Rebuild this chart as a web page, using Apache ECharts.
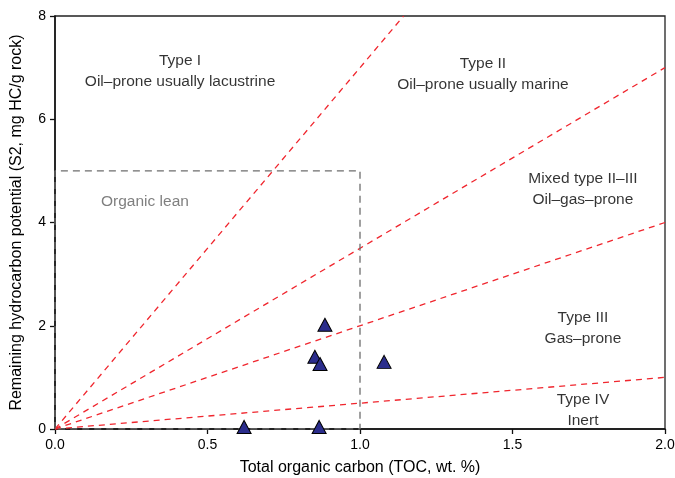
<!DOCTYPE html>
<html>
<head>
<meta charset="utf-8">
<script src="https://cdn.jsdelivr.net/npm/echarts@6/dist/echarts.min.js"></script>
<style>
    html, body { margin: 0; padding: 0; background: #fff; }
    #chart { width: 675px; height: 478px; }
</style>
</head>
<body>
<div id="chart"></div>
<script>
// samples: TOC (wt. %) vs S2 (mg HC/g rock)
const sampleToc = [0.62, 0.866, 0.852, 0.869, 0.885, 1.079];
const sampleS2 = [0.04, 0.04, 1.40, 1.26, 2.02, 1.30];

// kerogen type boundary lines, end points of each line from the origin
const boundaryEnds = [[1.143, 8], [2, 7], [2, 4], [2, 1]];

// organic lean box
const leanBox = [[0, 0], [0, 5], [1, 5], [1, 0], [0, 0]];

// field labels
const fieldNames = [
    'Type I\nOil\u2013prone usually lacustrine',
    'Type II\nOil\u2013prone usually marine',
    'Mixed type II\u2013III\nOil\u2013gas\u2013prone',
    'Type III\nGas\u2013prone',
    'Type IV\nInert'
];
const fieldX = [0.41, 1.403, 1.731, 1.731, 1.731];
const fieldY = [6.93, 6.87, 4.64, 1.95, 0.37];

const xTicks = ['0.0', '0.5', '1.0', '1.5', '2.0'];

let chart = echarts.init(document.getElementById('chart'));
const font = '"Liberation Sans", Arial, Helvetica, sans-serif';

let series = [];

boundaryEnds.forEach(function (end) {
    series.push({
        type: 'line',
        data: [[0, 0], end],
        symbol: 'none',
        silent: true,
        lineStyle: { color: '#f0262e', width: 1.3, type: [6, 5] },
        z: 2
    });
});

series.push({
    type: 'line',
    data: leanBox,
    symbol: 'none',
    silent: true,
    lineStyle: { color: '#6d6d6d', width: 1.3, type: [7, 5] },
    z: 2
});

series.push({
    type: 'scatter',
    data: fieldNames.map(function (n, i) { return [fieldX[i], fieldY[i], n]; }),
    symbolSize: 0,
    silent: true,
    label: {
        show: true,
        position: 'inside',
        formatter: function (p) { return p.value[2]; },
        color: '#000',
        fontSize: 15.5,
        lineHeight: 21,
        fontFamily: font
    },
    z: 3
});

series.push({
    type: 'scatter',
    data: [[0.295, 4.41, 'Organic lean']],
    symbolSize: 0,
    silent: true,
    label: {
        show: true,
        position: 'inside',
        formatter: function (p) { return p.value[2]; },
        color: '#5f5f5f',
        fontSize: 15.5,
        fontFamily: font
    },
    z: 3
});

series.push({
    type: 'scatter',
    data: sampleToc.map(function (x, i) { return [x, sampleS2[i]]; }),
    symbol: 'triangle',
    symbolSize: [14, 13],
    clip: false,
    itemStyle: { color: '#2b2d8c', opacity: 1, borderColor: '#000', borderWidth: 1 },
    z: 5
});

let option = {
    animation: false,
    backgroundColor: '#fff',
    grid: {
        left: 55, right: 10, top: 16, bottom: 49,
        outerBoundsMode: 'none',
        show: true, borderColor: '#222', borderWidth: 1.3
    },
    xAxis: {
        type: 'value',
        min: 0, max: 2, interval: 0.5,
        name: 'Total organic carbon (TOC, wt. %)',
        nameLocation: 'middle',
        nameGap: 31,
        nameTextStyle: { color: '#000', fontSize: 16, fontFamily: font },
        axisLine: { onZero: false, lineStyle: { color: '#111', width: 1.5 } },
        axisTick: { length: 5, lineStyle: { color: '#111', width: 1.3 } },
        axisLabel: {
            color: '#000', fontSize: 14, fontFamily: font, margin: 9,
            formatter: function (v) { return xTicks[Math.round(v / 0.5)]; }
        },
        splitLine: { show: false }
    },
    yAxis: {
        type: 'value',
        min: 0, max: 8, interval: 2,
        name: 'Remaining hydrocarbon potential (S2, mg HC/g rock)',
        nameLocation: 'middle',
        nameGap: 30,
        nameTextStyle: { color: '#000', fontSize: 16, fontFamily: font },
        axisLine: { onZero: false, lineStyle: { color: '#111', width: 1.5 } },
        axisTick: { length: 5, lineStyle: { color: '#111', width: 1.3 } },
        axisLabel: { color: '#000', fontSize: 14, fontFamily: font, margin: 9 },
        splitLine: { show: false }
    },
    series: series
};

chart.setOption(option);
</script>
</body>
</html>
